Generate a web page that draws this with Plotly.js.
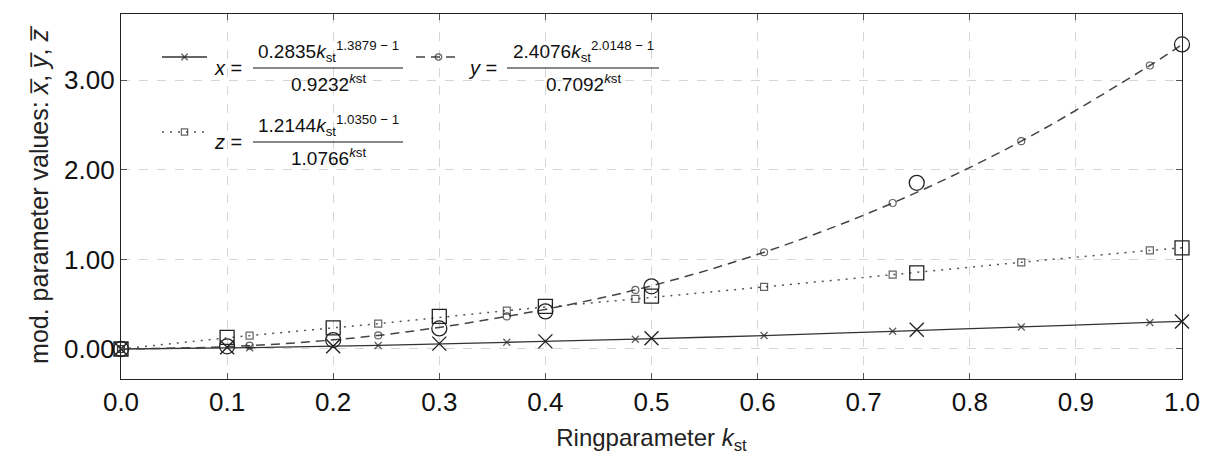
<!DOCTYPE html>
<html>
<head>
<meta charset="utf-8">
<script src="https://cdn.plot.ly/plotly-3.0.1.min.js"></script>
<style>
html,body{margin:0;padding:0;background:#fff;}
#chart{width:1216px;height:460px;}
</style>
</head>
<body>
<div id="chart"></div>
<script>
// ---- data ----
// sample positions of the fitted curves (small marks)
const kCurve = [0, 0.1212, 0.2424, 0.3636, 0.4848, 0.6061, 0.7273, 0.8485, 0.9697, 1.0];
const xCurve = [0, 0.015, 0.040, 0.075, 0.110, 0.150, 0.197, 0.246, 0.297, 0.308];
const yCurve = [0, 0.037, 0.152, 0.364, 0.660, 1.080, 1.630, 2.320, 3.165, 3.400];
const zCurve = [0, 0.149, 0.283, 0.428, 0.559, 0.693, 0.830, 0.968, 1.100, 1.130];
// measured points (large marks)
const kData = [0, 0.1, 0.2, 0.3, 0.4, 0.5, 0.75, 1.0];
const xData = [0, 0.020, 0.030, 0.060, 0.085, 0.120, 0.215, 0.308];
const yData = [0, 0.030, 0.100, 0.230, 0.420, 0.700, 1.855, 3.400];
const zData = [0, 0.130, 0.235, 0.364, 0.475, 0.590, 0.850, 1.130];
const xTicks = [0, 0.1, 0.2, 0.3, 0.4, 0.5, 0.6, 0.7, 0.8, 0.9, 1.0];
const yTicks = [0, 1, 2, 3];

// ---- layout geometry ----
const W = 1216, H = 460;
const M = {l: 121, r: 34, t: 14, b: 81};
const PW = W - M.l - M.r, PH = H - M.t - M.b;
const px = v => (v - M.l) / PW;
const py = v => (H - M.b - v) / PH;

const MK = '#222';
const smallSizes = kCurve.map((k, i) => i === kCurve.length - 1 ? 0 : 7);

const traces = [
  {x: kCurve, y: xCurve, mode: 'lines+markers', name: ' ', legend: 'legend',
   line: {color: '#333', width: 1.3, shape: 'spline'},
   marker: {symbol: 'x-thin-open', size: smallSizes, line: {color: MK, width: 1.4}, color: MK},
   cliponaxis: false},
  {x: kCurve, y: yCurve, mode: 'lines+markers', name: ' ', legend: 'legend2',
   line: {color: '#444', width: 1.5, shape: 'spline', dash: '9px,6px'},
   marker: {symbol: 'circle-open', size: smallSizes, line: {color: MK, width: 1.2}, color: MK},
   cliponaxis: false},
  {x: kCurve, y: zCurve, mode: 'lines+markers', name: ' ', legend: 'legend3',
   line: {color: '#555', width: 1.5, shape: 'spline', dash: '2px,6px'},
   marker: {symbol: 'square-open', size: smallSizes, line: {color: MK, width: 1.2}, color: MK},
   cliponaxis: false},
  {x: kData, y: xData, mode: 'markers', showlegend: false,
   marker: {symbol: 'x-thin-open', size: 14, color: MK, line: {color: MK, width: 1.4}}, cliponaxis: false},
  {x: kData, y: yData, mode: 'markers', showlegend: false,
   marker: {symbol: 'circle-open', size: 15, color: MK, line: {color: MK, width: 1.3}}, cliponaxis: false},
  {x: kData, y: zData, mode: 'markers', showlegend: false,
   marker: {symbol: 'square-open', size: 14, color: MK, line: {color: MK, width: 1.3}}, cliponaxis: false}
];

const FF = 'Liberation Sans, Arial, sans-serif';
const NARROW = 'Liberation Sans Narrow, Arial Narrow, Liberation Sans, sans-serif';

const legendBase = {bgcolor: 'rgba(0,0,0,0)', borderwidth: 0, xanchor: 'left', yanchor: 'middle',
  font: {size: 10, family: FF}, itemwidth: 45, tracegroupgap: 0};

// formula annotations
const annots = [];
const shapes = [];
function eqn(letter, num, den, xl, xb0, xb1, yb) {
  annots.push({text: '<i>' + letter + '</i> =', x: px(xl), y: py(yb), xref: 'paper', yref: 'paper',
    xanchor: 'left', yanchor: 'middle', showarrow: false, font: {size: 20, family: FF, color: '#111'}});
  const cx = px((xb0 + xb1) / 2);
  annots.push({text: num, x: cx, y: py(yb - 1), xref: 'paper', yref: 'paper', xanchor: 'center',
    yanchor: 'bottom', showarrow: false, font: {size: 19, family: FF, color: '#111'}});
  annots.push({text: den, x: cx, y: py(yb + 1), xref: 'paper', yref: 'paper', xanchor: 'center',
    yanchor: 'top', showarrow: false, font: {size: 19, family: FF, color: '#111'}});
  shapes.push({type: 'line', xref: 'paper', yref: 'paper', x0: px(xb0), x1: px(xb1), y0: py(yb), y1: py(yb),
    line: {color: '#111', width: 1}});
}
eqn('x', '0.2835<i>k</i><sub>st</sub><sup>1.3879 − 1</sup>', '0.9232<sup><i>k</i>st</sup>', 212, 253, 403, 68);
eqn('y', '2.4076<i>k</i><sub>st</sub><sup>2.0148 − 1</sup>', '0.7092<sup><i>k</i>st</sup>', 466, 507, 659, 68);
eqn('z', '1.2144<i>k</i><sub>st</sub><sup>1.0350 − 1</sup>', '1.0766<sup><i>k</i>st</sup>', 212, 253, 403, 142);

const layout = {
  width: W, height: H,
  margin: M,
  paper_bgcolor: '#fff', plot_bgcolor: '#fff',
  showlegend: true,
  legend: Object.assign({}, legendBase, {x: px(157), y: py(57)}),
  legend2: Object.assign({}, legendBase, {x: px(411), y: py(57)}),
  legend3: Object.assign({}, legendBase, {x: px(157), y: py(132)}),
  xaxis: {
    range: [0, 1], tickvals: xTicks, tickformat: '.1f',
    showgrid: true, gridcolor: '#d6d6d6', gridwidth: 1, griddash: 'dash', zeroline: false,
    showline: true, linecolor: '#222', linewidth: 1.2, mirror: 'ticks',
    ticks: 'inside', ticklen: 6, tickcolor: '#555',
    tickfont: {family: NARROW, size: 26, color: '#111'},
    title: {text: 'Ringparameter <i>k</i><sub>st</sub>', font: {family: NARROW, size: 24, color: '#222'}, standoff: 12}
  },
  yaxis: {
    range: [-0.335, 3.74], tickvals: yTicks, tickformat: '.2f',
    showgrid: true, gridcolor: '#d6d6d6', gridwidth: 1, griddash: 'dash', zeroline: false,
    showline: true, linecolor: '#222', linewidth: 1.2, mirror: 'ticks',
    ticks: 'inside', ticklen: 6, tickcolor: '#555',
    tickfont: {family: FF, size: 26, color: '#111'},
    title: {text: 'mod. parameter values: <i>x\u0305</i>, <i>y\u0305</i>, <i>z\u0305</i>', font: {family: FF, size: 25, color: '#222'}, standoff: 8}
  },
  annotations: annots,
  shapes: shapes
};

Plotly.newPlot('chart', traces, layout, {displayModeBar: false, staticPlot: true});
</script>
</body>
</html>
